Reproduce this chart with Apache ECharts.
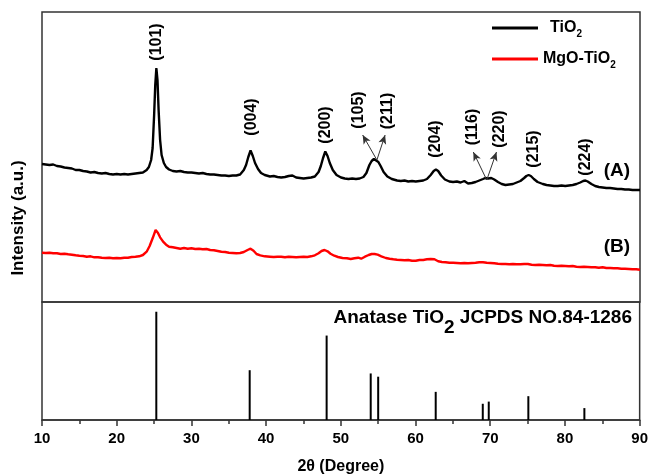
<!DOCTYPE html>
<html><head><meta charset="utf-8">
<script src="https://cdn.jsdelivr.net/npm/echarts@6/dist/echarts.min.js"></script>
<style>html,body{margin:0;padding:0;background:#fff}#c{width:651px;height:476px}</style>
</head><body><div id="c"></div>
<script>
// ---- data ----
const xTickValues = [10,20,30,40,50,60,70,80,90];

const tio2X = [10,10.5,11,11.5,12,12.5,13,13.5,14,14.5,15,15.5,16,16.5,17,17.5,18,18.5,19,19.5,20,20.5,21,21.5,22,22.5,23,23.5,24,
  24.3,24.6,24.8,25,25.15,25.3,25.45,25.6,25.8,26,26.3,26.6,
  27,27.5,28,28.5,29,29.5,30,30.5,31,31.5,32,32.5,33,33.5,34,34.5,35,35.5,36,36.5,37,
  37.3,37.6,37.9,38.2,38.5,38.9,39.3,39.8,
  40.5,41,41.5,42,42.5,43,43.5,44,44.5,45,45.5,46,46.5,47,
  47.3,47.6,47.9,48.2,48.5,48.9,49.4,
  50,50.5,51,51.5,52,52.5,53,
  53.4,53.8,54.1,54.4,54.7,55,55.3,55.7,56.2,56.8,
  57.5,58,58.5,59,59.5,60,60.5,61,61.5,62,
  62.4,62.7,63,63.4,63.9,
  64.5,65,65.5,66,66.5,67,67.5,68,68.5,69,
  69.3,69.7,70.1,70.5,
  71,71.5,72,72.5,73,73.5,74,74.5,
  74.8,75.1,75.4,75.8,76.3,
  77,77.5,78,78.5,79,79.5,80,80.5,81,81.5,82,
  82.4,82.7,83,
  83.5,84,84.5,85,85.5,86,86.5,87,87.5,88,88.5,89,89.5,90];
const tio2Y = [135,134.5,134,134.5,133,132.5,131.5,131,130.5,129,129,128,127.5,126.5,127,126,125.5,126,125,124.5,125,124.5,125,124.5,125,125.5,126,126.5,129,
  132,139,151,184,214,231,219,189,159,144,136,132,
  129.5,128,127.5,128,127,126.5,126.5,126,125.5,126,125,124.5,124.5,124,123.5,123.5,123,123.5,123.5,124.5,129,
  134,142,148.5,143,136,130,126,124,
  122.5,123,122,121.5,122,123,123.5,121.5,121,120.5,121,121.5,122.5,127,
  133,141,147.5,143,136,129,124,
  121.5,120.5,120,120.5,120,120.5,122,
  126,134,138,140,138.5,137,133,127,122.5,120,
  118.5,118,118.5,117.5,118,117.5,118,118.5,120,124,
  128,129.5,128,123.5,119.5,
  117.5,117,117.5,116.5,118,115.5,116,117,118.5,120,
  121,120.5,121,119.5,
  117,115,114,114.5,115,116.5,118,121,
  123,124,123,120,117,
  115,114,113.5,113,113,113.5,113,113.5,114,115,116.5,
  118,118.5,117.5,
  115,113,112,111.5,111,111,110.5,110,110,109.5,109.5,109,109,109];

const mgoX = [10,10.5,11,11.5,12,12.5,13,13.5,14,14.5,15,15.5,16,16.5,17,17.5,18,18.5,19,19.5,20,20.5,21,21.5,22,22.5,23,23.5,24,
  24.4,24.8,25.2,25.5,25.8,26.2,26.6,
  27,27.5,28,28.5,29,29.5,30,30.5,31,31.5,32,32.5,33,33.5,34,34.5,35,35.5,36,36.5,37,37.5,
  37.9,38.3,38.7,39.2,39.8,
  40.5,41,41.5,42,42.5,43,43.5,44,44.5,45,45.5,46,46.5,47,
  47.4,47.8,48.2,48.6,49.1,49.6,50.2,50.8,51.3,51.8,52.3,52.7,53.2,53.7,54.1,54.5,54.9,55.4,
  56,56.5,57,57.5,58,58.5,59,59.5,60,60.5,
  61,61.5,62,62.5,63,63.5,64,64.5,65,65.5,
  66,66.5,67,67.5,68,68.5,69,69.5,70,70.5,
  71,71.5,72,72.5,73,73.5,74,74.5,75,75.5,
  76,76.5,77,77.5,78,78.5,79,79.5,80,80.5,
  81,81.5,82,82.5,83,83.5,84,84.5,85,85.5,
  86,86.5,87,87.5,88,88.5,89,89.5,90];
const mgoY = [46.3,46,46.3,45.7,45.7,45,45.3,44.7,44.3,43.7,43.3,43,42.3,42.7,41.7,41.7,41.3,41,41.3,40.7,41,40.7,41.3,41.3,42,42.3,42.7,44,47.3,
  53,60.7,69,66.3,61.7,57.3,54.3,
  52.3,51.7,51,50.3,51,50.3,50.7,50,50.3,49.7,50,49,48.7,48,47.3,47,46.3,46,45.7,46,47,49,
  50.3,48.3,45,43.7,42.7,
  42.3,42,42.3,42.3,41.7,42.3,42,41.7,42,42.3,42,42.7,43.7,45.7,
  48,49,47.7,45.3,43.3,42,41,40.7,40,40.7,41.3,40.3,42.3,44,45,45,44.3,42.7,
  41,40.3,39.7,39.3,39,38.7,39,38.3,38.3,39,
  39,39.7,40,39.7,37.7,37,36.7,36.3,36.3,36,
  35.7,36,35.7,36,36.3,36.7,36.7,36.3,36,35.7,
  35.3,35,35,34.7,35,34.7,34.7,35,35,34.3,
  34,34.3,34,33.7,34,33.3,33,33.3,33,32.7,
  33,32.3,32,32.3,32,31.7,31.7,31.3,31.7,31,
  31,30.7,30.7,30.3,30.3,30,29.7,29.7,29.3];

const refX = [25.3,37.8,48.1,54.0,55.0,62.7,69.0,69.8,75.1,82.6];
const refY = [100,46,78,43,40,26,15,17,22,11];

const hklNames = ['(101)','(004)','(200)','(105)','(211)','(204)','(116)','(220)','(215)','(224)'];
const hklX = [25.3,38.1,48.0,52.4,56.2,62.6,67.6,71.2,75.7,82.7];
const hklY = [257,182,174,189,188,160,172,170,150,142];

const curveTags = ['(A)','(B)'];
const curveTagX = [86.9,86.9];
const curveTagY = [128,52];

const arrowFrom = [[54.8,139],[54.8,139],[69.5,119],[69.5,119]];
const arrowTo = [[52.9,164],[55.9,164],[67.7,147],[70.8,147]];

// ---- chart ----
const FONT = '"Liberation Sans", Arial, sans-serif';
const TXT = '#000';
const zip = (xs, ys) => xs.map((x, i) => [x, ys[i]]);
const chart = echarts.init(document.getElementById('c'));
chart.setOption({
  animation: false,
  backgroundColor: '#fff',
  textStyle: { fontFamily: FONT },
  title: {
    text: '{a|Anatase TiO}{b|2}{a| JCPDS NO.84-1286}',
    right: 14, top: 301,
    textStyle: {
      rich: {
        a: { fontSize: 19, fontWeight: 'bold', color: TXT, fontFamily: FONT, lineHeight: 24 },
        b: { fontSize: 19, fontWeight: 'bold', color: TXT, fontFamily: FONT, lineHeight: 24, padding: [20, 0, 0, 0] }
      }
    }
  },
  legend: {
    data: ['TiO2', 'MgO-TiO2'],
    orient: 'vertical',
    left: 487, top: 12,
    icon: 'rect', itemWidth: 46, itemHeight: 3, itemGap: 9,
    formatter: n => n === 'TiO2' ? '{p|}{a|TiO}{s|2}' : '{a|MgO-TiO}{s|2}',
    textStyle: {
      rich: {
        p: { width: 7 },
        a: { fontSize: 16, fontWeight: 'bold', color: TXT, fontFamily: FONT, lineHeight: 22 },
        s: { fontSize: 10, fontWeight: 'bold', color: TXT, fontFamily: FONT, lineHeight: 22, padding: [12, 0, 0, 0] }
      }
    }
  },
  grid: [
    { left: 42, right: 11, top: 12, height: 290, show: true, borderColor: '#333', borderWidth: 1.5 },
    { left: 42, right: 11, top: 302, height: 120, show: true, borderColor: '#333', borderWidth: 1.5 }
  ],
  xAxis: [
    { gridIndex: 0, type: 'value', min: 10, max: 90, show: false },
    { gridIndex: 1, type: 'value', min: 10, max: 90, interval: 10,
      axisLine: { lineStyle: { color: '#333', width: 1.5 } },
      axisTick: { length: 6, lineStyle: { color: '#333', width: 1.5 } },
      minorTick: { show: true, splitNumber: 2, length: 4, lineStyle: { color: '#333', width: 1.5 } },
      splitLine: { show: false },
      axisLabel: { fontSize: 15, fontWeight: 'bold', color: TXT, margin: 11, fontFamily: FONT },
      name: '2θ (Degree)', nameLocation: 'middle', nameGap: 39,
      nameTextStyle: { fontSize: 16, fontWeight: 'bold', color: TXT, fontFamily: FONT }
    }
  ],
  yAxis: [
    { gridIndex: 0, type: 'value', min: -3, max: 287, show: false },
    { gridIndex: 1, type: 'value', min: 0, max: 109, show: false }
  ],
  graphic: [{
    type: 'text', x: 18, y: 218, rotation: Math.PI / 2,
    style: { text: 'Intensity (a.u.)', font: 'bold 17px ' + FONT, fill: TXT,
      align: 'center', verticalAlign: 'middle', textAlign: 'center', textVerticalAlign: 'middle' }
  }],
  series: [
    { name: 'TiO2', type: 'line', xAxisIndex: 0, yAxisIndex: 0, data: zip(tio2X, tio2Y),
      showSymbol: false, lineStyle: { color: '#000', width: 2.4 }, itemStyle: { color: '#000' } },
    { name: 'MgO-TiO2', type: 'line', xAxisIndex: 0, yAxisIndex: 0, data: zip(mgoX, mgoY),
      showSymbol: false, lineStyle: { color: '#ff0000', width: 2.4 }, itemStyle: { color: '#ff0000' } },
    { name: 'JCPDS', type: 'bar', xAxisIndex: 1, yAxisIndex: 1, data: zip(refX, refY),
      barWidth: 2, itemStyle: { color: '#000' } },
    { name: 'hkl', type: 'scatter', xAxisIndex: 0, yAxisIndex: 0, symbolSize: 1,
      itemStyle: { color: 'transparent', opacity: 1 },
      data: hklNames.map((n, i) => ({ name: n, value: [hklX[i], hklY[i]] })),
      label: { show: true, position: 'inside', rotate: 90, formatter: '{b}', opacity: 1,
        fontSize: 16, fontWeight: 'bold', color: TXT, fontFamily: FONT,
        textBorderWidth: 0, textBorderColor: 'transparent' },
      markLine: {
        silent: true, symbol: ['none', 'arrow'], symbolSize: [6, 9],
        lineStyle: { color: '#333', width: 1, type: 'solid' },
        label: { show: false },
        data: arrowFrom.map((f, i) => [{ coord: f }, { coord: arrowTo[i] }])
      }
    },
    { name: 'tags', type: 'scatter', xAxisIndex: 0, yAxisIndex: 0, symbolSize: 1,
      itemStyle: { color: 'transparent', opacity: 1 },
      data: curveTags.map((n, i) => ({ name: n, value: [curveTagX[i], curveTagY[i]] })),
      label: { show: true, position: 'inside', formatter: '{b}', opacity: 1,
        fontSize: 19, fontWeight: 'bold', color: TXT, fontFamily: FONT,
        textBorderWidth: 0, textBorderColor: 'transparent' }
    }
  ]
});
</script>
</body></html>
